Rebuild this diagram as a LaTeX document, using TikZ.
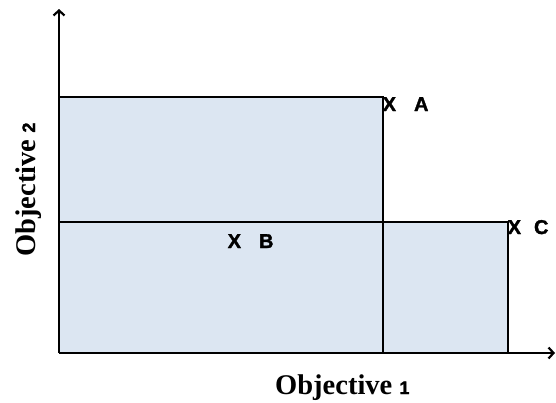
\documentclass[tikz,border=0pt]{standalone}
\usepackage{fontspec}
\setmainfont{Liberation Serif}
\newfontfamily\lsansb[FakeBold=1.6]{Liberation Sans Bold}
\usetikzlibrary{arrows.meta}
\definecolor{regfill}{HTML}{DCE6F2}
\tikzset{
  axisline/.style={line width=2.4pt,-{Straight Barb[length=5pt,width=11pt,line width=2.2pt]}},
  edge/.style={line width=2.8pt},
  region/.style={fill=regfill,draw=none},
  ptlabel/.style={font=\lsansb\fontsize{20}{20}\selectfont,inner sep=0pt,anchor=base west},
  axlabel/.style={font=\bfseries\fontsize{28.5}{28.5}\selectfont,inner sep=0pt,anchor=base west}
}
\begin{document}
\begin{tikzpicture}[x=1pt,y=-1pt]
\useasboundingbox (0,0) rectangle (556,402);
\fill[region] (59,97) rectangle (383,353);
\fill[region] (59,222) rectangle (508,353);
\coordinate (o) at (59,353);
\coordinate (ytop) at (59,9);
\coordinate (xend) at (555,353);
\coordinate (a) at (383,97);
\coordinate (a0) at (383,353);
\coordinate (c) at (508,222);
\coordinate (c0) at (508,353);
\coordinate (la) at (59,97);
\coordinate (lc) at (59,222);
\draw[edge] (la) -- (a) -- (a0);
\draw[edge] (lc) -- (c) -- (c0);
\draw[axisline] (o) -- (ytop);
\draw[axisline] (o) -- (xend);
\node[ptlabel] (A) at (382.5,111) {X\hspace{18pt}A};
\node[ptlabel] (B) at (227.5,248) {X\hspace{18pt}B};
\node[ptlabel] (C) at (507.5,234) {X\hspace{13pt}C};
\node[axlabel] (X1) at (275,394) {Objective {\lsansb\fontsize{18}{18}\selectfont 1}};
\node[axlabel,rotate=90] (Y2) at (35,257) {Objective {\lsansb\fontsize{18}{18}\selectfont 2}};
\end{tikzpicture}
\end{document}
